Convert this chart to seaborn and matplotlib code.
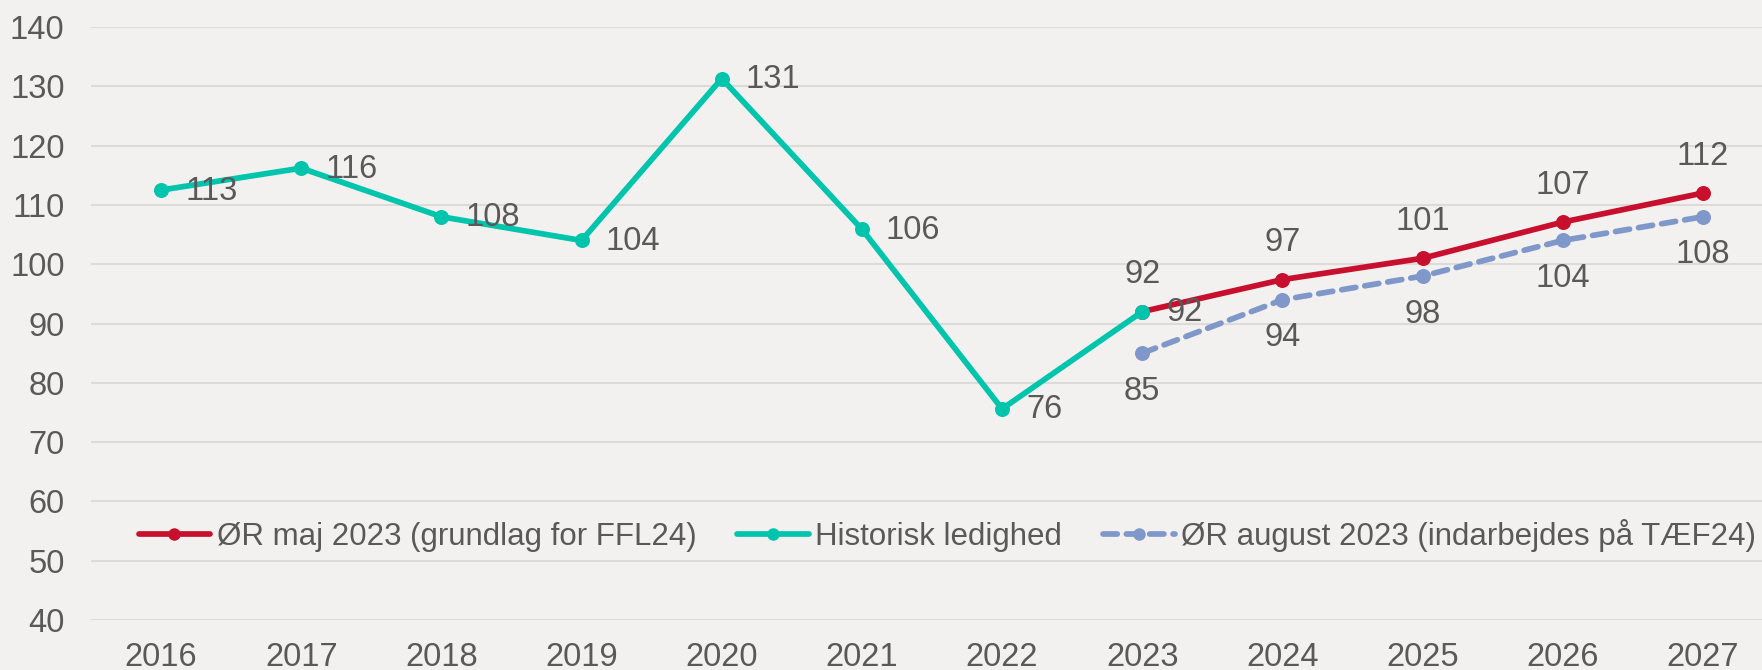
import matplotlib
matplotlib.use("Agg")
import matplotlib.pyplot as plt
import seaborn as sns
import pandas as pd

years = ["2016", "2017", "2018", "2019", "2020", "2021", "2022", "2023", "2024", "2025", "2026", "2027"]

hist_years = ["2016", "2017", "2018", "2019", "2020", "2021", "2022", "2023"]
hist_vals = [112.5, 116.2, 108.0, 104.0, 131.3, 105.9, 75.6, 92.0]
hist_labels = ["113", "116", "108", "104", "131", "106", "76", "92"]

maj_years = ["2023", "2024", "2025", "2026", "2027"]
maj_vals = [92.0, 97.4, 101.0, 107.1, 112.0]
maj_labels = ["92", "97", "101", "107", "112"]

aug_years = ["2023", "2024", "2025", "2026", "2027"]
aug_vals = [85.0, 94.0, 98.0, 104.0, 108.0]
aug_labels = ["85", "94", "98", "104", "108"]

series_names = ["ØR maj 2023 (grundlag for FFL24)", "Historisk ledighed",
                "ØR august 2023 (indarbejdes på TÆF24)"]

BG = "#F2F1EF"
RED = "#C8102E"
TEAL = "#00C4AC"
BLUE = "#7F97C9"
TXT = "#595959"
GRID = "#DCDBD9"

sns.set_theme(style="white")
plt.rcParams["font.family"] = ["Liberation Sans", "DejaVu Sans"]

fig = plt.figure(figsize=(17.62, 6.70), dpi=100, facecolor=BG)
ax = fig.add_axes([91 / 1762, 50 / 670, 1682 / 1762, 593 / 670])
ax.set_facecolor(BG)

pos = {y: i for i, y in enumerate(years)}
df_maj = pd.DataFrame({"x": [pos[y] for y in maj_years], "y": maj_vals})
df_hist = pd.DataFrame({"x": [pos[y] for y in hist_years], "y": hist_vals})
df_aug = pd.DataFrame({"x": [pos[y] for y in aug_years], "y": aug_vals})

LW = 4.1
MS = 10.8
sns.lineplot(data=df_aug, x="x", y="y", ax=ax, color=BLUE, lw=LW, marker="o",
             markersize=MS, markeredgewidth=0, dashes=(2.5, 1.6), zorder=2,
             label=series_names[2], legend=False)
ax.lines[-1].set_dash_capstyle("round")
sns.lineplot(data=df_maj, x="x", y="y", ax=ax, color=RED, lw=LW, marker="o",
             markersize=MS, markeredgewidth=0, zorder=3,
             label=series_names[0], legend=False)
sns.lineplot(data=df_hist, x="x", y="y", ax=ax, color=TEAL, lw=LW, marker="o",
             markersize=MS, markeredgewidth=0, zorder=4,
             label=series_names[1], legend=False)

FS = 23.5
for y, v, t in zip(hist_years, hist_vals, hist_labels):
    ax.annotate(t, (pos[y], v), xytext=(24, -1), textcoords="offset pixels",
                ha="left", va="center", fontsize=FS, color=TXT, zorder=6)
for y, v, t in zip(maj_years, maj_vals, maj_labels):
    ax.annotate(t, (pos[y], v), xytext=(0, 37), textcoords="offset pixels",
                ha="center", va="center", fontsize=FS, color=TXT, zorder=6)
for y, v, t in zip(aug_years, aug_vals, aug_labels):
    ax.annotate(t, (pos[y], v), xytext=(0, -38), textcoords="offset pixels",
                ha="center", va="center", fontsize=FS, color=TXT, zorder=6)

ax.set_xlim(-0.5, len(years) - 0.5)
ax.set_ylim(40, 140)
ax.set_xticks(range(len(years)))
ax.set_xticklabels(years)
ax.set_yticks(range(40, 141, 10))
ax.tick_params(axis="x", labelsize=FS, colors=TXT, length=0, pad=16)
ax.tick_params(axis="y", labelsize=FS, colors=TXT, length=0, pad=19)
ax.set_xlabel("")
ax.set_ylabel("")
ax.yaxis.grid(True, color=GRID, lw=1.5)
ax.xaxis.grid(False)
ax.set_axisbelow(True)
for s in ax.spines.values():
    s.set_visible(False)

h = {l.get_label(): l for l in ax.lines if l.get_label() in series_names}
leg = ax.legend([h[n] for n in series_names], series_names, loc="center",
                bbox_to_anchor=(0.509, 0.143), ncol=3, frameon=False, fontsize=22.5,
                handlelength=2.3, handletextpad=0.2, columnspacing=1.3,
                labelcolor=TXT, borderaxespad=0)
for ln in leg.get_lines():
    ln.set_markersize(9)

fig.savefig("out.png", dpi=100, facecolor=BG)
